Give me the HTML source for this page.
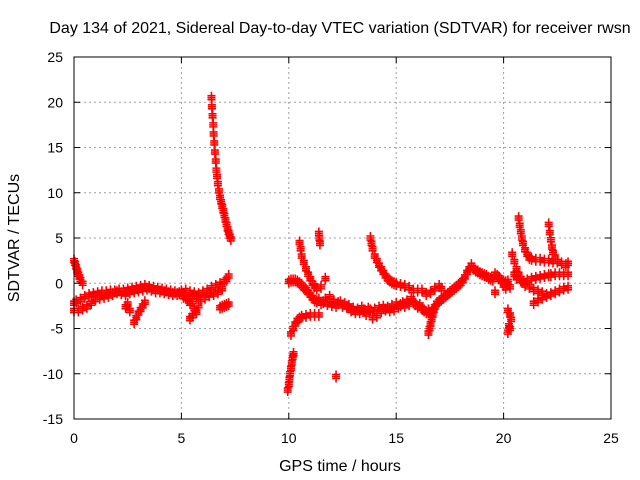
<!DOCTYPE html>
<html><head><meta charset="utf-8"><style>body{margin:0;background:#fff}svg{display:block;font-family:"Liberation Sans",sans-serif}</style></head>
<body>
<svg id="chart" width="640" height="480" viewBox="0 0 640 480">
<rect width="640" height="480" fill="#fff"/>
<text x="340" y="33" font-size="16" text-anchor="middle">Day 134 of 2021, Sidereal Day-to-day VTEC variation (SDTVAR) for receiver rwsn</text>
<text x="340" y="471" font-size="16" text-anchor="middle">GPS time / hours</text>
<text transform="translate(19,238) rotate(-90)" font-size="16" text-anchor="middle">SDTVAR / TECUs</text>
<g id="grid"></g><g id="marks"></g><g id="axes"></g>
</svg>
<script>
const xTicks=[0,5,10,15,20,25];
const yTicks=[-15,-10,-5,0,5,10,15,20,25];
const trackA=[[0,2.5],[0.05,2.2],[0.1,1.8],[0.15,1.4],[0.2,1.0],[0.25,0.7],[0.3,0.4],[0.4,0]];
const trackMain1=[[0,-2.2],[0,-3],[0.1,-2],[0.2,-3],[0.3,-1.8],[0.4,-2.8],[0.5,-1.5],[0.6,-2.6],[0.7,-1.3],[0.8,-2.2],[0.9,-1.2],[1.0,-1.8],[1.1,-1.1],[1.2,-1.6],[1.3,-1.0],[1.4,-1.5],[1.5,-1.0],[1.6,-1.4],[1.7,-0.9],[1.8,-1.2],[1.9,-0.9],[2.0,-1.0],[2.1,-0.8],[2.2,-1.1],[2.3,-0.8],[2.4,-1.2],[2.5,-0.7],[2.6,-1.0],[2.7,-0.6],[2.8,-0.9],[2.9,-0.5],[3.0,-0.8],[3.1,-0.4],[3.2,-0.7],[3.3,-0.3],[3.4,-0.6],[3.5,-0.4],[3.6,-0.7],[3.7,-0.5],[3.8,-0.9],[3.9,-0.6],[4.0,-0.9],[4.1,-0.7],[4.2,-1.0],[4.3,-0.8],[4.4,-1.1],[4.5,-0.9],[4.6,-1.2],[4.7,-1.0],[4.8,-1.2],[4.9,-1.1],[5.0,-0.9],[5.1,-1.5],[5.2,-0.8],[5.3,-1.7],[5.4,-1.0],[5.5,-2.0],[5.6,-1.1],[5.7,-1.5],[5.8,-1.2],[5.9,-1.8],[6.0,-1.0],[6.1,-1.6],[6.2,-0.8],[6.3,-1.3],[6.4,-0.5],[6.5,-1.2],[6.6,-0.3],[6.7,-1.0],[6.8,-0.1],[6.9,-0.6],[7.0,0.2],[7.1,0.4],[7.2,0.8]];
const trackBranch=[[5.2,-1.6],[5.4,-2.2],[5.6,-2.8],[5.7,-3.2],[5.5,-3.6],[5.4,-3.9],[5.8,-2.5]];
const trackSmall=[[2.4,-2.6],[2.5,-2.3],[2.6,-3.0],[2.8,-4.3],[2.9,-3.8],[3.0,-3.3],[3.1,-2.9],[3.2,-2.5],[3.3,-2.1],[6.8,-2.7],[6.9,-2.6],[7.0,-2.5],[7.1,-2.4],[7.2,-2.3]];
const trackSpike=[[6.4,20.5],[6.42,19.5],[6.45,18.5],[6.48,17.5],[6.5,16.5],[6.53,15.5],[6.56,14.5],[6.6,13.5],[6.63,12.5],[6.66,11.8],[6.7,11],[6.75,10.2],[6.8,9.5],[6.85,9],[6.9,8.5],[6.95,8],[7.0,7.5],[7.05,7],[7.1,6.5],[7.15,6],[7.2,5.6],[7.25,5.2],[7.3,4.9]];
const trackMid=[[10.0,0.2],[10.1,0.3],[10.2,0.3],[10.3,0.3],[10.4,0.2],[10.5,0.0],[10.6,-0.2],[10.7,-0.5],[10.8,-0.7],[10.9,-1.0],[11.0,-1.3],[11.1,-1.6],[11.2,-1.9],[11.3,-2.0],[11.4,-1.8],[11.5,-2.2],[11.6,-2.1],[11.7,-1.8],[11.8,-2.3],[11.9,-1.5],[12.0,-2.4],[12.1,-2.0],[12.2,-2.5],[12.3,-2.2],[12.4,-2.1],[12.5,-2.5],[12.6,-2.3],[12.7,-2.6],[12.8,-2.5],[12.9,-3.0],[13.0,-2.8],[13.1,-3.2],[13.2,-2.9],[13.3,-3.2],[13.4,-2.7],[13.5,-3.0],[13.6,-3.4],[13.7,-2.8],[13.8,-3.0],[13.9,-3.8],[14.0,-2.9],[14.1,-3.6],[14.2,-2.7],[14.3,-3.1],[14.4,-2.6],[14.5,-2.9],[14.6,-2.7],[14.7,-3.0],[14.8,-2.5],[14.9,-2.9],[15.0,-2.3],[15.1,-2.6],[15.2,-2.4],[15.3,-2.2],[15.4,-2.5],[15.5,-2.0],[15.6,-2.3],[15.7,-1.7],[15.8,-2.1],[15.9,-2.3],[16.0,-2.6],[16.1,-2.4],[16.2,-2.8],[16.3,-3.0],[16.4,-3.2],[16.5,-3.0],[16.6,-3.4],[16.7,-2.9],[16.8,-2.6],[16.9,-2.2],[17.0,-2.0],[17.1,-1.8],[17.2,-1.6],[17.3,-1.4],[17.4,-1.2],[17.5,-1.0],[17.6,-0.8],[17.7,-0.6],[17.8,-0.4],[17.9,-0.2],[18.0,0.0],[18.1,0.3],[18.2,0.7],[18.3,1.2],[18.4,1.6],[18.5,2.0],[18.6,1.6],[18.7,1.4],[18.8,1.3],[18.9,1.1],[19.0,1.0],[19.1,0.9],[19.2,0.8],[19.3,0.6],[19.4,0.5],[19.5,0.4],[19.6,1.0],[19.7,0.8],[19.8,0.6],[19.9,0.3],[20.0,0.2],[20.1,0.1],[20.2,0.2]];
const trackDip=[[16.5,-5.5],[16.55,-5.0],[16.6,-4.5],[16.65,-4.0],[16.7,-3.5],[16.75,-3.0]];
const trackUpper1=[[10.5,4.5],[10.55,3.8],[10.6,3.0],[10.7,2.3],[10.8,1.6],[10.9,1.0],[11.0,0.5],[11.1,0.0],[11.2,-0.3],[11.3,-0.6],[11.5,-0.4],[11.7,0.5]];
const trackNeg1=[[9.95,-11.8],[10.0,-11.2],[10.03,-10.6],[10.06,-10.0],[10.1,-9.4],[10.14,-8.8],[10.18,-8.2],[10.22,-7.8]];
const trackNeg2=[[10.1,-5.6],[10.2,-5.0],[10.3,-4.5],[10.4,-4.1],[10.5,-3.9],[10.6,-3.7],[10.8,-3.6],[11.0,-3.5],[11.2,-3.5],[11.4,-3.5]];
const trackIso=[[11.4,5.5],[11.42,5.0],[11.45,4.4],[12.2,-10.3],[19.6,-1.0]];
const trackUpper2=[[13.8,5.0],[13.85,4.4],[13.9,3.8],[14.0,3.0],[14.1,2.5],[14.2,2.0],[14.3,1.6],[14.4,1.2],[14.5,0.8],[14.6,0.5],[14.7,0.3],[14.8,0.1],[14.9,0.0],[15.0,-0.1],[15.2,-0.2],[15.4,-0.3],[15.6,-0.5],[15.8,-0.8],[16.0,-0.8],[16.2,-0.8],[16.4,-1.2],[16.6,-1.0],[16.8,-0.6],[17.0,-0.3],[17.1,-0.6]];
const trackLate1=[[20.2,-3.0],[20.3,-3.5],[20.35,-4.0],[20.25,-4.7],[20.2,-5.4],[20.3,-5.0],[20.5,1.0],[20.6,0.6],[20.8,0.3]];
const trackLate2=[[20.7,7.2],[20.75,6.4],[20.8,5.7],[20.85,5.0],[20.9,4.4],[21.0,3.7],[21.1,3.2],[21.2,2.8],[21.3,2.7],[21.5,2.6],[21.7,2.6],[21.9,2.5],[22.1,2.5],[22.3,2.4],[22.5,2.4],[22.7,2.2],[22.9,2.0],[23.0,2.2]];
const trackLate3=[[22.1,6.5],[22.15,5.6],[22.2,4.8],[22.25,4.0],[22.3,3.4],[22.4,2.9]];
const trackLate4=[[20.4,3.2],[20.5,2.4],[20.6,1.6],[20.7,1.0],[20.8,0.5],[20.9,0.2],[21.0,-0.2],[21.1,0.3],[21.2,-0.4],[21.3,0.5],[21.4,-0.7],[21.5,0.6],[21.6,-0.9],[21.7,0.7],[21.8,-1.1],[21.9,0.8],[22.0,-1.3],[22.1,0.9],[22.2,0.9],[22.4,1.0],[22.6,1.0],[22.8,1.0],[23.0,1.0],[19.9,0.2],[20.0,-0.2],[20.1,-0.5],[20.3,-0.4]];
const trackLate5=[[21.4,-2.2],[21.6,-1.9],[21.8,-1.6],[22.0,-1.4],[22.2,-1.2],[22.4,-1.0],[22.6,-0.8],[22.8,-0.6],[23.0,-0.5]];
const tracks=[trackA,trackMain1,trackBranch,trackSmall,trackSpike,trackMid,trackDip,trackUpper1,trackNeg1,trackNeg2,trackIso,trackUpper2,trackLate1,trackLate2,trackLate3,trackLate4,trackLate5];

const L=74,R=611,T=57,B=419;
const xs=t=>L+(t-0)/(25-0)*(R-L);
const ys=v=>B-(v+15)/(40)*(B-T);
const NS='http://www.w3.org/2000/svg';
function mk(tag,attrs,parent){const e=document.createElementNS(NS,tag);for(const k in attrs)e.setAttribute(k,attrs[k]);parent.appendChild(e);return e;}
const grid=document.getElementById('grid'),axes=document.getElementById('axes'),marks=document.getElementById('marks');
xTicks.forEach(t=>{
  const x=xs(t);
  if(t>0&&t<25){const g=mk('line',{x1:x,x2:x,y1:T,y2:B,stroke:'#a0a0a0','stroke-dasharray':'2,3'},grid);
  
  }
  mk('line',{x1:x,x2:x,y1:B,y2:B-6,stroke:'#000'},axes);
  mk('line',{x1:x,x2:x,y1:T,y2:T+6,stroke:'#000'},axes);
  const tx=mk('text',{x:x,y:B+24,'font-size':14,'text-anchor':'middle'},axes);tx.textContent=t;
  
  
});
yTicks.forEach(v=>{
  const y=ys(v);
  if(v>-15&&v<25){const g=mk('line',{x1:L,x2:R,y1:y,y2:y,stroke:'#a0a0a0','stroke-dasharray':'2,3'},grid);
  
  }
  mk('line',{x1:L,x2:L+6,y1:y,y2:y,stroke:'#000'},axes);
  mk('line',{x1:R,x2:R-6,y1:y,y2:y,stroke:'#000'},axes);
  const tx=mk('text',{x:L-11,y:y+5,'font-size':14,'text-anchor':'end'},axes);tx.textContent=v;
  
  
});
const fr=mk('rect',{x:L,y:T,width:R-L,height:B-T,fill:'none',stroke:'#000'},axes);


let d='';
tracks.forEach(tr=>tr.forEach(([t,v])=>{const x=xs(t),y=ys(v);
  for(const dy of [-2,0,2]){d+=`M${x-4},${y+dy}h8M${x},${y+dy-4}v8`;}
}));
const p=mk('path',{d:d,stroke:'#f00','stroke-width':1.6,fill:'none'},marks);


</script>
</body></html>
